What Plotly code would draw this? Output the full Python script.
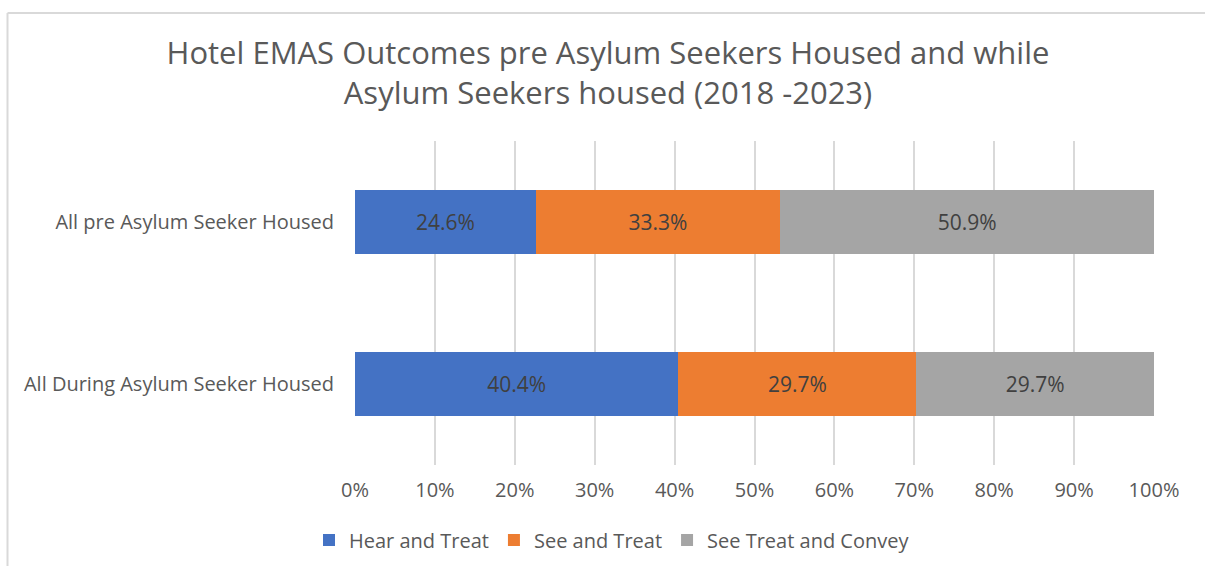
import plotly.graph_objects as go

# Chart data
categories = ["All pre Asylum Seeker Housed", "All During Asylum Seeker Housed"]
series_names = ["Hear and Treat", "See and Treat", "See Treat and Convey"]
hear_and_treat = [24.6, 40.4]
see_and_treat = [33.3, 29.7]
see_treat_convey = [50.9, 29.7]
x_ticks = [0, 10, 20, 30, 40, 50, 60, 70, 80, 90, 100]

colors = ["#4472C4", "#ED7D31", "#A5A5A5"]
text_grey = "#595959"
grid_grey = "#D9D9D9"
font_family = "Open Sans, Noto Sans, sans-serif"

W, H = 1205, 566
M_L, M_R, M_T, M_B = 355, 51, 141, 101

fig = go.Figure()
for name, vals, col in zip(series_names, [hear_and_treat, see_and_treat, see_treat_convey], colors):
    fig.add_trace(go.Bar(
        name=name,
        y=categories,
        x=vals,
        orientation="h",
        marker=dict(color=col, line=dict(width=0)),
        text=[f"{v:.1f}%" for v in vals],
        textposition="inside",
        insidetextanchor="middle",
        textfont=dict(family=font_family, size=21, color="#404040"),
        width=0.4,
    ))

# Outer chart frame (top and left edges)
pw = W - M_L - M_R
ph = H - M_T - M_B
def px_to_paper_x(px):
    return (px - M_L) / pw
def px_to_paper_y(py):
    return (H - M_B - py) / ph

frame_x0 = px_to_paper_x(7.5)
frame_x1 = px_to_paper_x(W + 5)
frame_y0 = px_to_paper_y(H + 5)
frame_y1 = px_to_paper_y(13)
shapes = [
    dict(type="line", xref="paper", yref="paper", x0=frame_x0, x1=frame_x1,
         y0=frame_y1, y1=frame_y1, line=dict(color=grid_grey, width=2)),
    dict(type="line", xref="paper", yref="paper", x0=frame_x0, x1=frame_x0,
         y0=frame_y0, y1=frame_y1, line=dict(color=grid_grey, width=2)),
]

fig.update_layout(
    width=W, height=H,
    barmode="stack",
    barnorm="percent",
    bargap=0.6,
    paper_bgcolor="white",
    plot_bgcolor="white",
    margin=dict(l=M_L, r=M_R, t=M_T, b=M_B),
    font=dict(family=font_family, color=text_grey),
    title=dict(
        text="Hotel EMAS Outcomes pre Asylum Seekers Housed and while<br>Asylum Seekers housed (2018 -2023)",
        x=608 / W, xanchor="center",
        y=1 - 64 / H, yanchor="middle", yref="container",
        font=dict(family=font_family, size=31, color=text_grey),
    ),
    xaxis=dict(
        range=[0, 100],
        tickvals=x_ticks,
        ticktext=[f"{t}%" for t in x_ticks],
        showgrid=True, gridcolor=grid_grey, gridwidth=2,
        zeroline=False, showline=False,
        ticks="", ticklabelstandoff=11,
        tickfont=dict(family=font_family, size=20, color=text_grey),
        fixedrange=True,
    ),
    yaxis=dict(
        autorange="reversed",
        showgrid=False, zeroline=False, showline=False,
        ticks="", ticklabelstandoff=20,
        tickfont=dict(family=font_family, size=20, color=text_grey),
    ),
    legend=dict(
        orientation="h",
        x=612 / W, xanchor="center", xref="container",
        y=1 - 540 / H, yanchor="middle", yref="container",
        font=dict(family=font_family, size=20, color=text_grey),
        itemwidth=30,
        traceorder="normal",
    ),
    shapes=shapes,
    showlegend=True,
)

fig.write_html("out.html")
